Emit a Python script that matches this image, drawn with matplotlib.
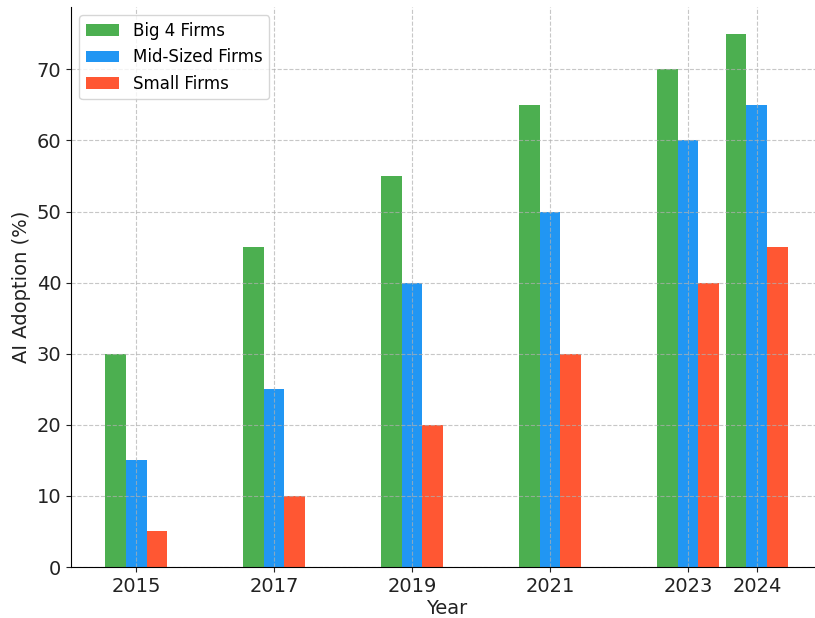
import numpy as np
import matplotlib
matplotlib.use("Agg")
import matplotlib.pyplot as plt

# data
years = [2015, 2017, 2019, 2021, 2023, 2024]
big4 = [30, 45, 55, 65, 70, 75]
mid_sized = [15, 25, 40, 50, 60, 65]
small = [5, 10, 20, 30, 40, 45]

x = np.array(years, dtype=float)
w = 0.3

fig = plt.figure(figsize=(8.15, 6.18), dpi=100)
ax = fig.add_axes([0.0871, 0.0825, 0.9215, 0.906])

ax.bar(x - w, big4, width=w, color="#4CAF50", label="Big 4 Firms")
ax.bar(x, mid_sized, width=w, color="#2196F3", label="Mid-Sized Firms")
ax.bar(x + w, small, width=w, color="#FF5733", label="Small Firms")

ax.set_xticks(years)
ax.set_xticklabels([str(y) for y in years])
ax.set_yticks(range(0, 80, 10))
ax.tick_params(labelsize=14, colors="#222222")
ax.set_xlabel("Year", fontsize=14, labelpad=2, color="#222222")
ax.set_ylabel("AI Adoption (%)", fontsize=14, color="#222222")
ax.grid(True, linestyle="--", alpha=0.7)
# the reference is cropped, top and right frame lines are not visible
ax.spines["top"].set_visible(False)
ax.spines["right"].set_visible(False)
ax.legend(loc="upper left", fontsize=12)

fig.savefig("out.png", dpi=100)
